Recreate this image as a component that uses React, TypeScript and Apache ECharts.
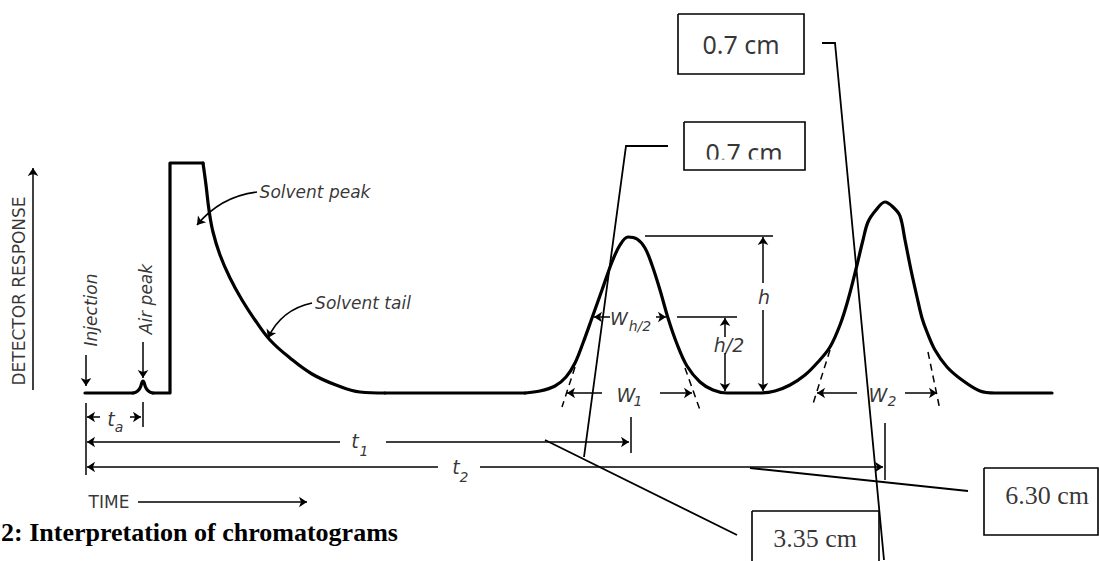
import React, { useEffect, useRef } from "react";
import * as echarts from "echarts";

// ---- chromatogram trace: [time, response] (response axis runs downward) ----
const injectionBaseline: number[][] = [[85, 393], [133, 393]];
const airPeak: number[][] = [[133, 393], [137, 391.5], [140, 388], [143, 381], [146, 388], [149, 391.5], [153, 393]];
const solventFront: number[][] = [[153, 393], [170, 393], [170, 163], [203, 163]];
const solventTail: number[][] = [
  [203, 163], [206, 185], [209, 210], [213, 232], [220, 255], [230, 278], [242, 300], [255, 320],
  [270, 340], [290, 358], [312, 374], [336, 385], [360, 392], [385, 393],
];
const quietBaseline: number[][] = [[385, 393], [525, 393]];
const componentPeaks: number[][] = [
  [525, 393], [540, 391], [555, 386], [566, 377], [575, 363], [583, 343], [592, 318], [602, 290],
  [612, 262], [620, 245], [628, 237], [637, 239], [645, 248], [652, 265], [660, 290], [668, 318],
  [677, 344], [687, 366], [700, 382], [713, 390], [727, 393], [745, 393], [760, 393], [775, 391],
  [790, 385], [805, 375], [818, 362], [830, 347], [840, 325], [848, 300], [857, 265], [863, 240],
  [868, 222], [876, 210], [885, 202], [893, 207], [900, 216], [905, 240], [911, 270], [917, 297],
  [922, 318], [927, 332], [935, 350], [947, 367], [962, 380], [980, 391], [995, 393], [1052, 393],
];

// ---- annotation strokes: [x1, y1, x2, y2] ----
const plainStrokes: number[][] = [
  [86, 403, 86, 475], [143, 402, 143, 427], [631, 417, 631, 453], [885, 423, 885, 480],
  [645, 236, 773, 236], [677, 317, 737, 317],
];
const arrowStrokes: number[][] = [
  [33, 390, 33, 168], [138, 502, 307, 502], [86, 355, 86, 386], [143, 342, 143, 378],
  [100, 417, 87, 417], [130, 417, 141, 417],
  [340, 442, 87, 442], [386, 442, 629, 442],
  [438, 467, 87, 467], [480, 467, 883, 467],
  [763, 283, 763, 237], [763, 310, 763, 391],
  [725, 337, 725, 318], [725, 353, 725, 391],
  [610, 317, 594, 317], [656, 317, 666, 317],
  [602, 393, 567, 393], [660, 393, 692, 393],
  [857, 393, 817, 393], [905, 393, 937, 393],
];
const tangentStrokes: number[][] = [
  [575, 367, 562, 407], [685, 368, 700, 410], [830, 350, 812, 407], [928, 352, 940, 410],
];
const curvedPointers: number[][] = [[257, 192, 197, 225, -0.2], [312, 303, 268, 338, -0.25]];
const calloutPaths: number[][][] = [
  [[822, 43], [835, 43], [884, 560]],
  [[668, 146], [626, 146], [584, 457]],
  [[545, 440], [737, 535]],
  [[750, 468], [968, 491]],
];
const boxFrames: number[][] = [[678, 14, 804, 74], [684, 122, 805, 170], [752, 511, 879, 575], [984, 468, 1098, 535]];

// ---- texts ----
const sansLabels = ["DETECTOR RESPONSE", "TIME"];
const italicLabels = ["Injection", "Air peak", "Solvent peak", "Solvent tail"];
const symbolLabels = ["t", "a", "t", "1", "t", "2", "h", "h/2", "W", "h/2", "W", "1", "W", "2"];
const boxLabels = ["0.7 cm", "0.7 cm", "3.35 cm", "6.30 cm"];
const caption = "2: Interpretation of chromatograms";

const ink = "#000";

function label(x: number, y: number, text: string, style: any) {
  return {
    value: [x, y],
    label: { show: true, position: "inside", formatter: text, color: ink, ...style },
  };
}

export default function App() {
  const ref = useRef<HTMLDivElement>(null);
  useEffect(() => {
    document.body.style.margin = "0";
    const chart = echarts.init(ref.current!, null, { renderer: "svg" });

    const traceSeries = (data: number[][], smooth: any) => ({
      type: "line",
      data,
      smooth,
      symbol: "none",
      silent: true,
      z: 3,
      lineStyle: { color: ink, width: 3.2, cap: "round", join: "round" },
    });

    const seg = (s: number[]) => ({ coords: [[s[0], s[1]], [s[2], s[3]]] });

    const sans = { fontFamily: "DejaVu Sans", fontSize: 17 };
    const ital = { fontFamily: "DejaVu Sans", fontSize: 17, fontStyle: "italic" };
    const sym = { fontFamily: "DejaVu Sans", fontSize: 19, fontStyle: "italic" };
    const sub = { fontFamily: "DejaVu Sans", fontSize: 14, fontStyle: "italic" };
    const calibri = { fontFamily: "Noto Sans", fontSize: 25 };
    const times = { fontFamily: "Liberation Serif", fontSize: 26 };

    const texts = [
      label(19, 291, sansLabels[0], { ...sans, rotate: 90 }),
      label(109, 502, sansLabels[1], sans),
      label(91, 310, italicLabels[0], { ...ital, rotate: 90 }),
      label(146, 299, italicLabels[1], { ...ital, rotate: 90 }),
      label(315, 192, italicLabels[2], ital),
      label(363, 303, italicLabels[3], ital),
      label(111, 419, symbolLabels[0], sym),
      label(119, 427, symbolLabels[1], sub),
      label(355, 441, symbolLabels[2], sym),
      label(364, 451, symbolLabels[3], sub),
      label(456, 467, symbolLabels[4], sym),
      label(464, 477, symbolLabels[5], sub),
      label(764, 297, symbolLabels[6], sym),
      label(729, 345, symbolLabels[7], sym),
      label(619, 318, symbolLabels[8], { ...sym, fontSize: 18 }),
      label(640, 326, symbolLabels[9], sub),
      label(626, 395, symbolLabels[10], sym),
      label(638, 401, symbolLabels[11], sub),
      label(878, 395, symbolLabels[12], sym),
      label(892, 401, symbolLabels[13], sub),
      label(741, 44, boxLabels[0], calibri),
      label(744, 152, boxLabels[1], calibri),
      label(815, 538, boxLabels[2], times),
      label(1047, 495, boxLabels[3], times),
    ];

    const option: any = {
      animation: false,
      backgroundColor: "#fff",
      grid: { left: 0, right: 0, top: 0, bottom: 0, containLabel: false },
      xAxis: { type: "value", min: 0, max: 1099, show: false },
      yAxis: { type: "value", min: 0, max: 561, inverse: true, show: false },
      graphic: [
        { type: "rect", z: 100, shape: { x: 686, y: 159.5, width: 117, height: 9.5 }, style: { fill: "#fff" } },
        {
          type: "text", z: 100, x: 1, y: 532,
          style: {
            text: caption, fill: ink, font: "bold 26px 'Liberation Serif'",
            textAlign: "left", textVerticalAlign: "middle",
          },
        },
      ],
      series: [
        traceSeries(injectionBaseline, false),
        traceSeries(airPeak, 0.5),
        traceSeries(solventFront, false),
        traceSeries(solventTail, 0.4),
        traceSeries(quietBaseline, false),
        traceSeries(componentPeaks, 0.35),
        {
          type: "lines", coordinateSystem: "cartesian2d", silent: true, symbol: "none",
          lineStyle: { color: ink, width: 1.5, opacity: 1, curveness: 0 },
          data: plainStrokes.map(seg),
        },
        {
          type: "lines", coordinateSystem: "cartesian2d", silent: true,
          symbol: ["none", "arrow"], symbolSize: 8,
          itemStyle: { color: ink },
          lineStyle: { color: ink, width: 1.5, opacity: 1, curveness: 0 },
          data: arrowStrokes.map(seg),
        },
        {
          type: "lines", coordinateSystem: "cartesian2d", silent: true, symbol: "none",
          lineStyle: { color: ink, width: 1.5, opacity: 1, type: [7, 5], curveness: 0 },
          data: tangentStrokes.map(seg),
        },
        {
          type: "lines", coordinateSystem: "cartesian2d", silent: true,
          symbol: ["none", "arrow"], symbolSize: 8,
          itemStyle: { color: ink },
          lineStyle: { color: ink, width: 1.7, opacity: 1 },
          data: curvedPointers.map((c) => ({
            coords: [[c[0], c[1]], [c[2], c[3]]],
            lineStyle: { curveness: c[4] },
          })),
        },
        {
          type: "lines", coordinateSystem: "cartesian2d", silent: true, polyline: true, symbol: "none",
          lineStyle: { color: ink, width: 1.8, opacity: 1 },
          data: calloutPaths.map((p) => ({ coords: p })),
        },
        {
          type: "lines", coordinateSystem: "cartesian2d", silent: true, polyline: true, symbol: "none",
          lineStyle: { color: ink, width: 1.6, opacity: 1 },
          data: boxFrames.map((b) => ({
            coords: [[b[0], b[1]], [b[2], b[1]], [b[2], b[3]], [b[0], b[3]], [b[0], b[1]]],
          })),
        },
        {
          type: "scatter", silent: true, symbolSize: 1, z: 5,
          itemStyle: { color: "rgba(0,0,0,0)" },
          data: texts,
        },
      ],
    };

    chart.setOption(option);
    return () => chart.dispose();
  }, []);
  return <div ref={ref} style={{ width: 1099, height: 561 }} />;
}
